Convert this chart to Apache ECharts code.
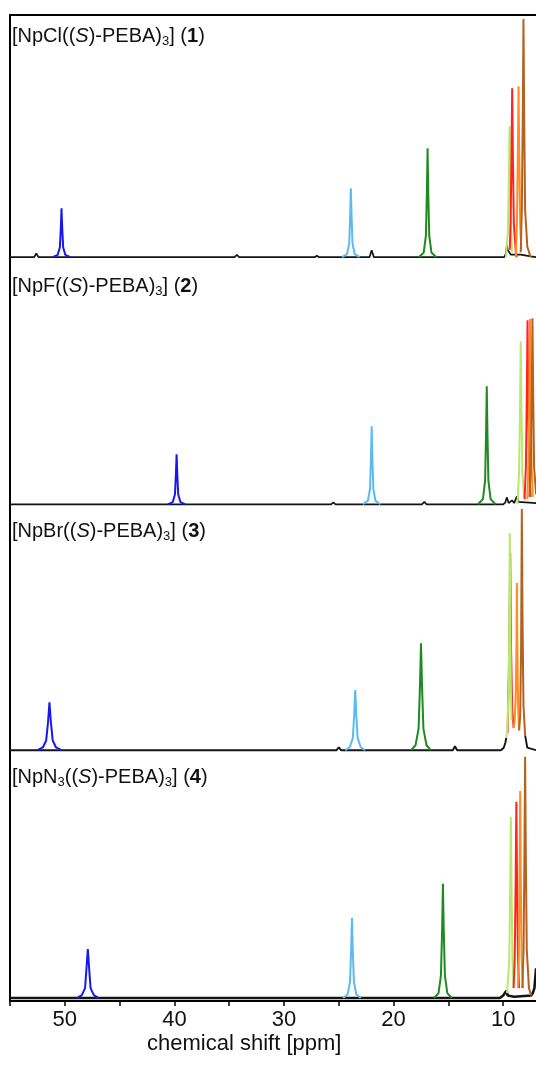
<!DOCTYPE html>
<html><head><meta charset="utf-8">
<script src="https://cdn.jsdelivr.net/npm/echarts@6/dist/echarts.min.js"></script>
<style>html,body{margin:0;padding:0;background:#fff}#c{width:536px;height:1068px}</style>
</head><body><div id="c"></div>
<script>
// ---- data: [chemical shift (ppm), intensity] ----
// Panel 1: [NpCl((S)-PEBA)3]
const p1Black = [[55,0],[52.8,0],[52.6,1.5],[52.4,0],[34.5,0],[34.3,1.0],[34.1,0],[27.2,0],[27.0,0.6],[26.8,0],[22.2,0],[22.0,2.8],[21.8,0],[9.9,0],[9.75,1.5],[9.66,5],[9.6,3],[9.3,1],[9.0,1],[8.85,0.5],[8.4,1],[7.5,0.3],[7.0,0]];
const p1Blue = [[51.1,0],[50.65,0.9],[50.45,4.0],[50.36,12.1],[50.3,19.8],[50.24,12.1],[50.15,4.0],[49.95,0.9],[49.5,0]];
const p1Cyan = [[24.7,0],[24.25,1.2],[24.05,5.6],[23.96,17.0],[23.9,27.9],[23.84,17.0],[23.75,5.6],[23.55,1.2],[23.1,0]];
const p1Green = [[17.7,0],[17.25,1.9],[17.05,8.8],[16.96,26.9],[16.9,44.1],[16.84,26.9],[16.75,8.8],[16.55,1.9],[16.1,0]];
const p1Yg = [[9.75,0],[9.57,10.6],[9.48,32.3],[9.42,53],[9.36,32.3],[9.27,10.6],[9.2,2]];
const p1Red = [[9.4,3],[9.33,13.7],[9.24,41.7],[9.18,68.4],[9.12,41.7],[9.03,13.7],[8.85,2],[8.75,0]];
const p1Orange = [[8.85,0],[8.75,13.8],[8.66,42.2],[8.6,69.2],[8.54,42.2],[8.45,13.8],[8.35,3]];
const p1Brown = [[8.4,2],[8.3,19.3],[8.21,58.8],[8.15,96.4],[8.09,58.8],[8.0,19.3],[7.8,4.2],[7.5,0]];
// Panel 2: [NpF((S)-PEBA)3]
const p2Black = [[55,0],[50.9,0],[50.8,0.8],[50.7,0],[25.7,0],[25.5,0.8],[25.3,0],[17.4,0],[17.2,1.0],[17.0,0],[14.2,0],[14.1,0.5],[14.0,0],[10.0,0],[9.8,0.8],[9.67,2.8],[9.5,0.5],[9.2,1.6],[9.0,0.5],[8.75,3.2],[8.6,1],[7.0,0.5]];
const p2Blue = [[40.6,0],[40.15,0.9],[39.95,4.0],[39.86,12.3],[39.8,20.2],[39.74,12.3],[39.65,4.0],[39.45,0.9],[39.0,0]];
const p2Cyan = [[22.8,0],[22.35,1.4],[22.15,6.3],[22.06,19.3],[22.0,31.6],[21.94,19.3],[21.85,6.3],[21.65,1.4],[21.2,0]];
const p2Green = [[12.3,0],[11.85,2.1],[11.65,9.6],[11.56,29.2],[11.5,47.8],[11.44,29.2],[11.35,9.6],[11.15,2.1],[10.7,0]];
const p2Yg = [[8.7,0],[8.55,13.2],[8.46,40.3],[8.4,66],[8.34,40.3],[8.25,13.2],[8.1,3]];
const p2Red = [[8.05,2],[7.93,14.9],[7.84,45.4],[7.78,74.5],[7.72,45.4],[7.63,14.9],[7.5,3]];
const p2Orange = [[7.8,2],[7.7,15],[7.61,45.8],[7.55,75],[7.49,45.8],[7.4,15],[7.3,3]];
const p2Brown = [[7.6,3],[7.48,15.1],[7.39,45.9],[7.33,75.3],[7.27,45.9],[7.18,15.1],[7.0,4]];
// Panel 3: [NpBr((S)-PEBA)3]
const p3Black = [[55,0],[25.2,0],[25.0,1.2],[24.8,0],[14.6,0],[14.4,1.6],[14.2,0],[13.4,0],[13.3,0.6],[13.2,0],[12.4,0],[12.3,0.5],[12.2,0],[10.2,0],[9.95,1],[9.8,3],[9.72,5],[9.7,null],[8.0,6],[7.8,1],[7.0,0]];
const p3Blue = [[52.5,0],[52.0,1.1],[51.7,3.9],[51.52,11.8],[51.4,19.4],[51.28,11.8],[51.1,3.9],[50.8,1.1],[50.3,0]];
const p3Cyan = [[24.4,0],[24.0,1.2],[23.72,4.9],[23.59,14.6],[23.5,24.3],[23.41,14.6],[23.28,4.9],[23.0,1.2],[22.6,0]];
const p3Green = [[18.4,0],[18.0,2.0],[17.72,8.7],[17.59,26.4],[17.5,43.3],[17.41,26.4],[17.28,8.7],[17.0,2.0],[16.6,0]];
const p3Red = [[9.6,7],[9.45,40],[9.36,80],[9.28,40],[9.18,17],[9.05,9]];
const p3Yg = [[9.72,5],[9.62,9],[9.5,25],[9.44,52],[9.4,87.9],[9.35,50],[9.3,24],[9.24,12]];
const p3Orange = [[9.05,9],[8.95,12],[8.85,22],[8.79,42],[8.75,67.6],[8.71,42],[8.64,18],[8.55,8]];
const p3Brown = [[8.55,8],[8.45,14],[8.37,40],[8.3,97.6],[8.24,55],[8.15,18],[8.0,6]];
// Panel 4: [NpN3((S)-PEBA)3]
const p4Black = [[55,0],[10.3,0],[10.0,1],[9.7,3],[9.6,1],[9.0,0.5],[7.45,1],[7.3,2],[7.15,4],[7.0,12]];
const p4Blue = [[48.9,0],[48.45,1.2],[48.15,4.0],[48.02,12.1],[47.9,19.8],[47.78,12.1],[47.65,4.0],[47.35,1.2],[46.9,0]];
const p4Cyan = [[24.6,0],[24.2,1.4],[23.98,6.5],[23.87,19.8],[23.8,32.4],[23.73,19.8],[23.62,6.5],[23.4,1.4],[23.0,0]];
const p4Green = [[16.3,0],[15.9,2.0],[15.68,9.2],[15.57,28.2],[15.5,46.2],[15.43,28.2],[15.32,9.2],[15.1,2.0],[14.7,0]];
const p4Yg = [[9.65,2],[9.45,14.7],[9.36,44.7],[9.3,73.3],[9.24,44.7],[9.15,14.7],[9.05,4]];
const p4Red = [[9.05,4],[8.95,15.9],[8.86,48.4],[8.8,79.4],[8.74,48.4],[8.65,15.9],[8.55,4]];
const p4Orange = [[8.65,4],[8.57,16.8],[8.5,51],[8.45,83.8],[8.4,51],[8.32,16.8],[8.2,4]];
const p4Brown = [[8.25,4],[8.14,19.5],[8.06,59.5],[8.0,97.6],[7.94,59.5],[7.85,19.5],[7.65,4],[7.45,1]];

const panelLabels = [
  '[NpCl(({i|S})-PEBA){s|3}] ({b|1})',
  '[NpF(({i|S})-PEBA){s|3}] ({b|2})',
  '[NpBr(({i|S})-PEBA){s|3}] ({b|3})',
  '[NpN{s|3}(({i|S})-PEBA){s|3}] ({b|4})'
];
const tickLabels = [50, 40, 30, 20, 10];
const axisTitle = 'chemical shift [ppm]';

// ---- build ----
const FONT = '"Liberation Sans", Arial, Helvetica, sans-serif';
const colors = {black:'#141414', blue:'#1818ee', cyan:'#5cbaf2', green:'#1f8a1f', yg:'#b8e86c', red:'#ff2424', orange:'#ff8d24', brown:'#b5611f'};
const baseY = [301, 201, 101.5, 1.2];
const blackWidth = [1.7, 1.7, 1.9, 2.6];
const labelTops = [24, 274, 519, 765];
const panels = [
  [['black',p1Black],['blue',p1Blue],['cyan',p1Cyan],['green',p1Green],['yg',p1Yg],['red',p1Red],['orange',p1Orange],['brown',p1Brown]],
  [['black',p2Black],['blue',p2Blue],['cyan',p2Cyan],['green',p2Green],['yg',p2Yg],['red',p2Red],['orange',p2Orange],['brown',p2Brown]],
  [['black',p3Black],['blue',p3Blue],['cyan',p3Cyan],['green',p3Green],['red',p3Red],['yg',p3Yg],['orange',p3Orange],['brown',p3Brown]],
  [['black',p4Black],['blue',p4Blue],['cyan',p4Cyan],['green',p4Green],['yg',p4Yg],['red',p4Red],['orange',p4Orange],['brown',p4Brown]]
];
const series = [];
panels.forEach((list, i) => list.forEach(([c, arr]) => {
  series.push({
    type: 'line', symbol: 'none', showSymbol: false, animation: false, silent: true,
    data: arr.map(p => [p[0], p[1] === null ? '-' : baseY[i] + p[1]]),
    lineStyle: {color: colors[c], width: c === 'black' ? blackWidth[i] : 2},
    itemStyle: {color: colors[c]}
  });
}));

const titles = panelLabels.map((t, i) => ({
  text: t, left: 12, top: labelTops[i], padding: 0,
  textStyle: {
    fontFamily: FONT, fontSize: 20, fontWeight: 'normal', color: '#111', lineHeight: 24,
    rich: {
      i: {fontFamily: FONT, fontSize: 20, fontStyle: 'italic', color: '#111', lineHeight: 24},
      b: {fontFamily: FONT, fontSize: 20, fontWeight: 'bold', color: '#111', lineHeight: 24},
      s: {fontFamily: FONT, fontSize: 13, color: '#111', lineHeight: 12, verticalAlign: 'bottom'}
    }
  }
}));

const chart = echarts.init(document.getElementById('c'));
chart.setOption({
  animation: false,
  backgroundColor: '#fff',
  title: titles,
  grid: {left: 10, width: 548, top: 15, bottom: 67, outerBoundsMode: 'none', containLabel: false,
         show: true, borderColor: '#000', borderWidth: 2, backgroundColor: 'transparent'},
  xAxis: {
    type: 'value', min: 5, max: 55, interval: 5, inverse: true,
    axisLine: {show: true, lineStyle: {color: '#000', width: 2}},
    axisTick: {show: true, length: 5, lineStyle: {color: '#000', width: 1.5}},
    axisLabel: {formatter: v => tickLabels.includes(v) ? String(v) : '', fontFamily: FONT, fontSize: 22, color: '#111', margin: 8},
    splitLine: {show: false}
  },
  yAxis: {type: 'value', min: 0, max: 399, show: false},
  graphic: [{type: 'text', left: 147, top: 1033, style: {text: axisTitle, fontFamily: FONT, fontSize: 22, fill: '#111'}}],
  series: series
});
</script></body></html>
